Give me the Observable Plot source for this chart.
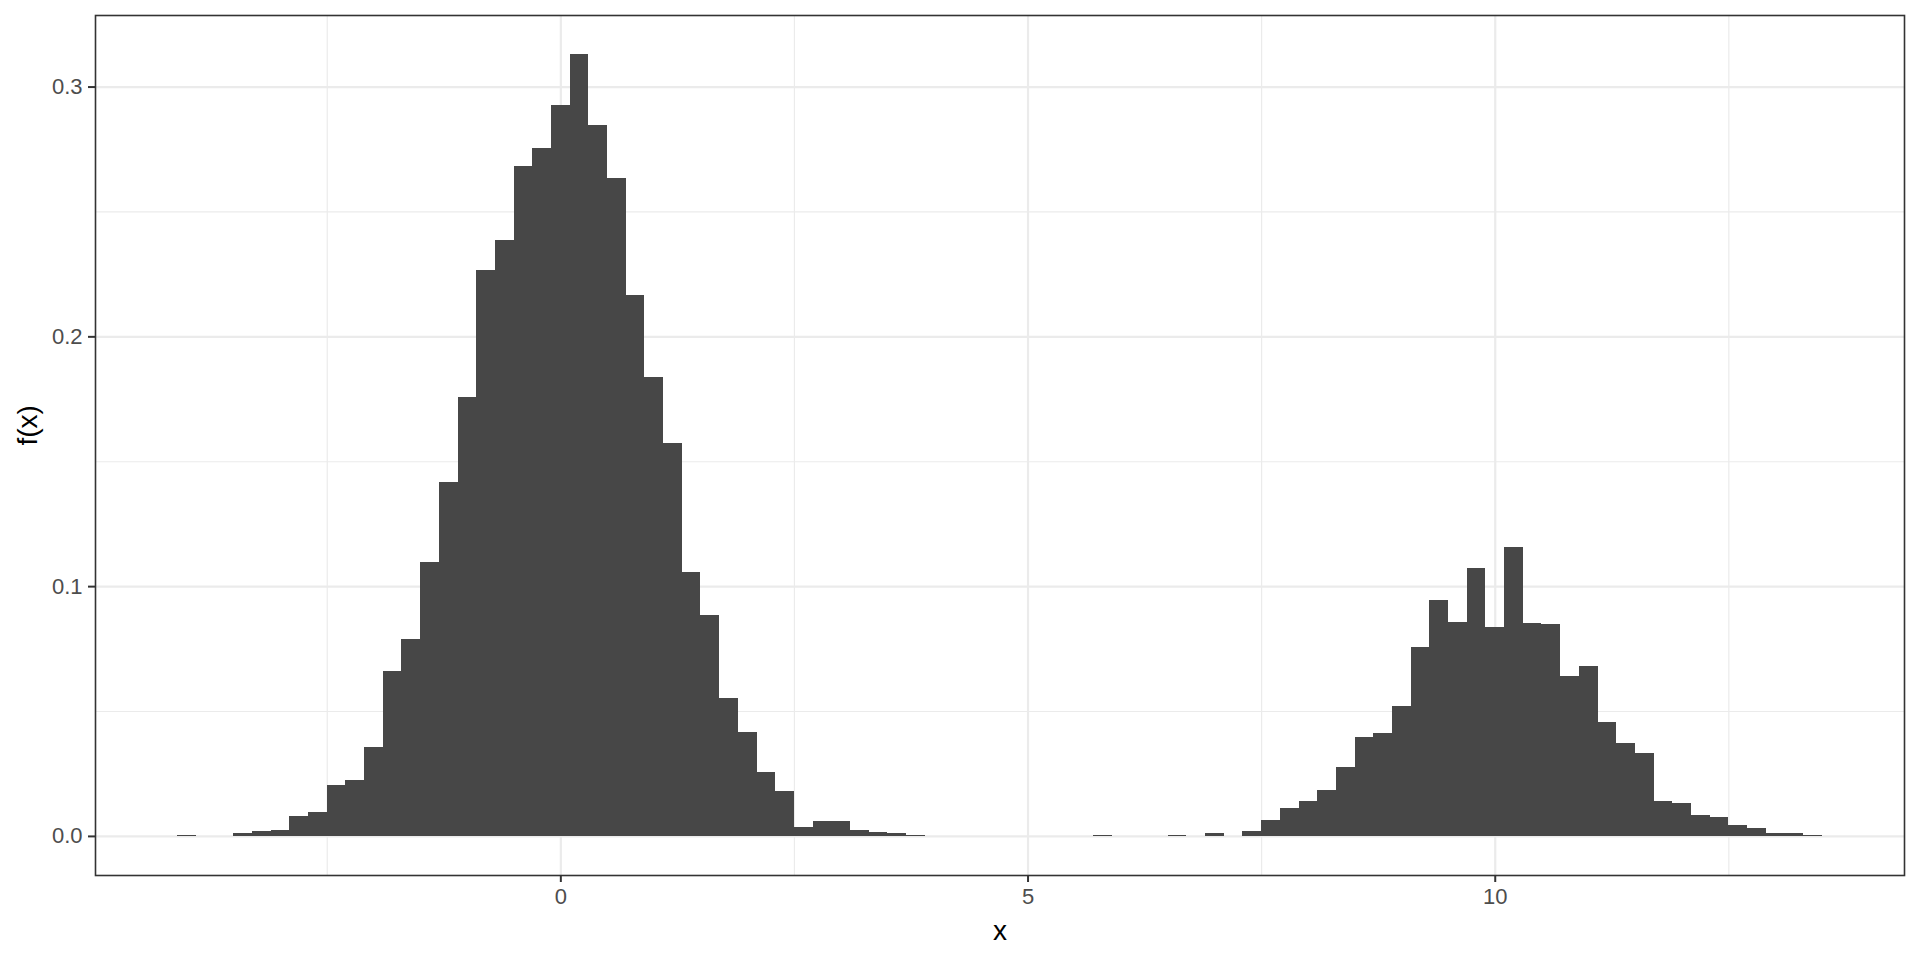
<!DOCTYPE html>
<html>
<head>
<meta charset="utf-8">
<script src="https://cdn.jsdelivr.net/npm/d3@7"></script>
<script src="https://cdn.jsdelivr.net/npm/@observablehq/plot@0.6"></script>
<style>
  html, body { margin: 0; padding: 0; background: #ffffff; }
  #chart { width: 1920px; height: 960px; }
</style>
</head>
<body>
<div id="chart"></div>
<script>
// Histogram bins (centre of each 0.2-wide bin) and density values
const binWidth = 0.2;
const binCenters = [
  -4.0, -3.4, -3.2, -3.0, -2.8, -2.6, -2.4, -2.2, -2.0, -1.8, -1.6, -1.4, -1.2, -1.0,
  -0.8, -0.6, -0.4, -0.2, 0.0, 0.2, 0.4, 0.6, 0.8, 1.0, 1.2, 1.4, 1.6, 1.8, 2.0, 2.2,
  2.4, 2.6, 2.8, 3.0, 3.2, 3.4, 3.6, 3.8,
  5.8, 6.6, 7.0, 7.4, 7.6, 7.8, 8.0, 8.2, 8.4, 8.6, 8.8, 9.0, 9.2, 9.4, 9.6, 9.8,
  10.0, 10.2, 10.4, 10.6, 10.8, 11.0, 11.2, 11.4, 11.6, 11.8, 12.0, 12.2, 12.4, 12.6,
  12.8, 13.0, 13.2, 13.4
];
const densities = [
  0.0004, 0.0012, 0.0020, 0.0024, 0.0080, 0.0095, 0.0203, 0.0223, 0.0355, 0.0659, 0.0790, 0.1095, 0.1415, 0.1759,
  0.2267, 0.2386, 0.2682, 0.2755, 0.2926, 0.3130, 0.2846, 0.2634, 0.2166, 0.1838, 0.1572, 0.1058, 0.0886, 0.0554, 0.0414, 0.0254,
  0.0178, 0.0034, 0.0058, 0.0058, 0.0022, 0.0014, 0.0010, 0.0003,
  0.0003, 0.0003, 0.0010, 0.0018, 0.0062, 0.0110, 0.0138, 0.0182, 0.0274, 0.0394, 0.0410, 0.0522, 0.0758, 0.0946, 0.0858, 0.1074,
  0.0838, 0.1158, 0.0854, 0.0850, 0.0640, 0.0680, 0.0458, 0.0370, 0.0330, 0.0138, 0.0130, 0.0082, 0.0074, 0.0042,
  0.0030, 0.0010, 0.0010, 0.0003
];

// Axis breaks and labels
const xMajor = [0, 5, 10];
const xMinor = [-2.5, 2.5, 7.5, 12.5];
const yMajor = [0.0, 0.1, 0.2, 0.3];
const yMinor = [0.05, 0.15, 0.25];
const xTitle = "x";
const yTitle = "f(x)";

const bins = binCenters.map((c, i) => ({x1: c - binWidth / 2, x2: c + binWidth / 2, density: densities[i]}));

// ggplot-like 5% expansion of the data range
const xMin = d3.min(bins, d => d.x1), xMax = d3.max(bins, d => d.x2);
const xPad = (xMax - xMin) * 0.05;
const yMax = d3.max(densities);
const yPad = yMax * 0.05;

const gridColor = "#ebebeb";
const font = "'Liberation Sans', Arial, Helvetica, sans-serif";

const chart = Plot.plot({
  width: 1920,
  height: 960,
  marginLeft: 95,
  marginRight: 16,
  marginTop: 15,
  marginBottom: 85,
  style: {fontFamily: font, background: "#ffffff", overflow: "visible"},
  x: {domain: [xMin - xPad, xMax + xPad]},
  y: {domain: [-yPad, yMax + yPad]},
  marks: [
    Plot.ruleX(xMinor, {stroke: gridColor, strokeWidth: 1.2}),
    Plot.ruleY(yMinor, {stroke: gridColor, strokeWidth: 1.2}),
    Plot.ruleX(xMajor, {stroke: gridColor, strokeWidth: 2.2}),
    Plot.ruleY(yMajor, {stroke: gridColor, strokeWidth: 2.2}),
    Plot.rectY(bins, {x1: "x1", x2: "x2", y1: 0, y2: "density", fill: "#474747", shapeRendering: "crispEdges"}),
    Plot.frame({stroke: "#333333", strokeWidth: 1.6}),
    Plot.axisX(xMajor, {
      tickSize: 7, tickPadding: 6, fontSize: 22, stroke: "#333333", strokeWidth: 2,
      fill: "#4d4d4d", label: null, tickFormat: d => String(d)
    }),
    Plot.axisY(yMajor, {
      tickSize: 7, tickPadding: 6, fontSize: 22, stroke: "#333333", strokeWidth: 2,
      fill: "#4d4d4d", label: null, tickFormat: d3.format(".1f")
    }),
    Plot.text([xTitle], {text: d => d, frameAnchor: "bottom", dy: 56, fontSize: 28, fill: "#000000", lineAnchor: "middle"}),
    Plot.text([yTitle], {text: d => d, frameAnchor: "left", dx: -67, rotate: -90, fontSize: 28, fill: "#000000", lineAnchor: "middle"})
  ]
});
document.getElementById("chart").appendChild(chart);
</script>
</body>
</html>
